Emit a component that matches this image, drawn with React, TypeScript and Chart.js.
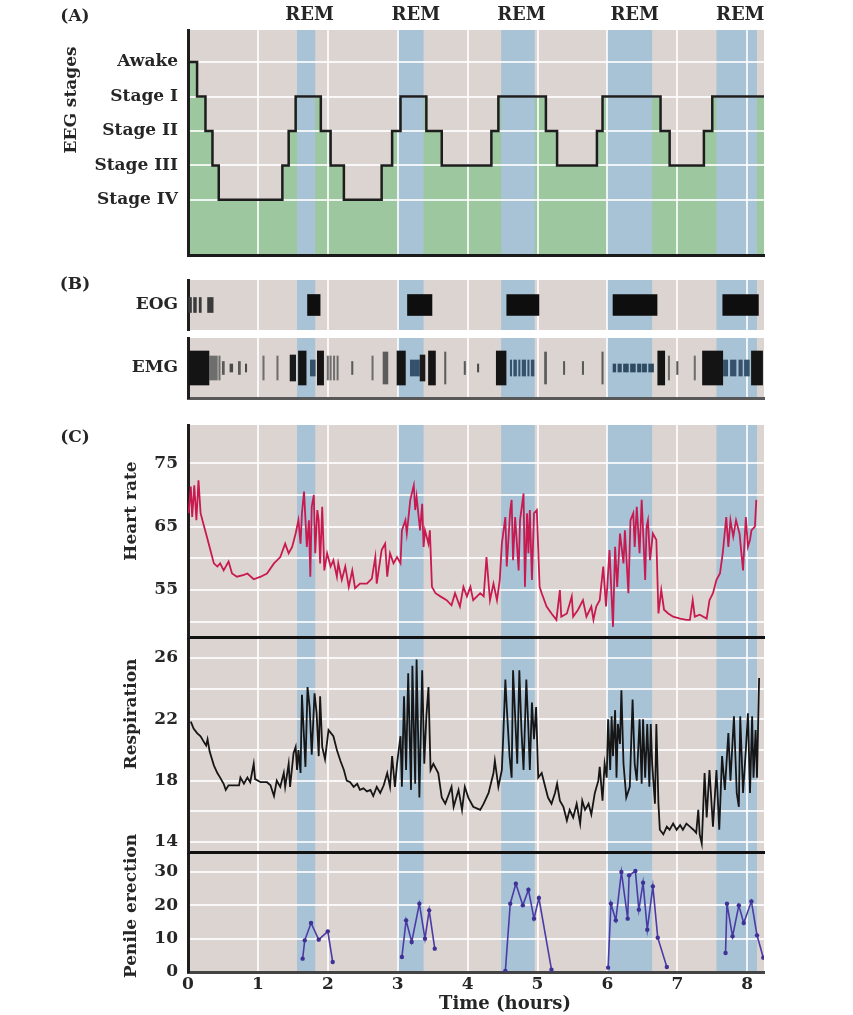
import React, { useEffect, useRef } from 'react';
import { Chart, registerables } from 'chart.js';

Chart.register(...registerables);

// ---------- style constants ----------
const FONT = "'DejaVu Serif', 'Liberation Serif', serif";
const INK = '#262626';
const BEIGE = '#dcd4d0';
const GREEN = '#9dc79f';
const BLUE = '#a8c2d6';
const GRID = 'rgba(255,255,255,0.82)';
const PAGE_W = 853;
const PLOT_LEFT = 188;
const PLOT_RIGHT = 764;

// ---------- data ----------
const X_MIN = 0;
const X_MAX = 8.24;
const HOUR_TICKS = [0, 1, 2, 3, 4, 5, 6, 7, 8];
const REM_BANDS: [number, number][] = [[1.56, 1.82], [3.0, 3.37], [4.48, 4.96], [5.99, 6.64], [7.56, 8.14]];
const REM_LABEL_HOURS = [1.74, 3.26, 4.77, 6.39, 7.9];

const STAGE_NAMES = ['Stage IV', 'Stage III', 'Stage II', 'Stage I', 'Awake'];
const STAGE_TICKS = [1, 2, 3, 4, 5];
// [hour at which the stage begins, stage level (5 = Awake ... 1 = Stage IV)]
const EEG_STEPS: [number, number][] = [
  [0, 5.9], [0.01, 5], [0.13, 4], [0.25, 3], [0.35, 2], [0.44, 1], [1.35, 2], [1.44, 3], [1.54, 4],
  [1.9, 3], [2.04, 2], [2.23, 1], [2.77, 2], [2.92, 3], [3.04, 4], [3.41, 3], [3.63, 2], [4.34, 3],
  [4.44, 4], [5.12, 3], [5.28, 2], [5.85, 3], [5.93, 4], [6.76, 3], [6.89, 2], [7.38, 3], [7.5, 4], [8.24, 4],
];

const EOG_MINOR: [number, number][] = [[0.01, 0.05], [0.08, 0.12], [0.16, 0.19], [0.28, 0.36]];
const EOG_BURSTS: [number, number][] = [[1.71, 1.89], [3.14, 3.49], [4.56, 5.02], [6.08, 6.71], [7.65, 8.16]];

const EMG_LARGE: [number, number][] = [[0.0, 0.3], [1.58, 1.69], [1.85, 1.94], [2.99, 3.11], [3.44, 3.54], [4.41, 4.55], [6.72, 6.82], [7.36, 7.65], [8.06, 8.22]];
const EMG_MEDIUM: [number, number][] = [[1.46, 1.54], [3.32, 3.39]];
const EMG_TALL_THIN: [number, number][] = [[2.79, 2.86], [3.67, 3.69], [5.1, 5.13], [5.92, 5.94]];
const EMG_MEDIUM_GRAY: [number, number][] = [[0.31, 0.42], [0.44, 0.46], [1.07, 1.09], [1.27, 1.29], [1.99, 2.01], [2.03, 2.05], [2.08, 2.1], [2.13, 2.15], [2.63, 2.65], [6.87, 6.89], [7.24, 7.26]];
const EMG_SMALL: [number, number][] = [[0.49, 0.52], [0.72, 0.75], [2.34, 2.36], [3.95, 3.97], [5.37, 5.39], [5.64, 5.66], [6.99, 7.01]];
const EMG_TINY: [number, number][] = [[0.6, 0.64], [0.82, 0.84], [4.14, 4.16]];
const EMG_REM: [number, number][] = [[1.75, 1.82], [3.18, 3.31], [4.61, 4.63], [4.66, 4.7], [4.73, 4.75], [4.78, 4.83], [4.86, 4.88], [4.91, 4.95], [7.66, 7.72], [7.76, 7.84], [7.88, 7.93], [7.96, 8.03]];
const EMG_REM_DASH: [number, number][] = [[6.08, 6.12], [6.15, 6.2], [6.23, 6.3], [6.33, 6.4], [6.43, 6.48], [6.5, 6.56], [6.59, 6.66]];

const HR_TICKS = [50, 55, 60, 65, 70, 75];
const HR_LABELS = [55, 65, 75];
const HEART_RATE: [number, number][] = [
  [0.01, 67.1], [0.04, 71.3], [0.06, 66.5], [0.09, 71.5], [0.12, 66.0], [0.15, 72.3], [0.18, 67.1], [0.23, 65.0], [0.27, 63.4], [0.32, 61.3],
  [0.37, 59.2], [0.42, 58.7], [0.46, 59.2], [0.51, 58.1], [0.58, 59.5], [0.63, 57.6], [0.70, 57.1], [0.80, 57.4], [0.85, 57.6], [0.94, 56.7],
  [1.04, 57.1], [1.13, 57.6], [1.23, 59.2], [1.32, 60.2], [1.39, 62.3], [1.44, 60.8], [1.49, 61.8], [1.54, 63.9], [1.58, 66.0], [1.61, 62.3],
  [1.63, 67.1], [1.66, 70.5], [1.70, 61.8], [1.73, 66.0], [1.75, 57.1], [1.77, 68.1], [1.80, 70.0], [1.82, 60.8], [1.85, 67.6], [1.87, 66.0],
  [1.89, 59.2], [1.92, 68.1], [1.95, 58.1], [1.99, 60.8], [2.04, 58.7], [2.08, 59.7], [2.13, 57.1], [2.15, 59.2], [2.20, 56.6], [2.25, 58.7],
  [2.30, 55.5], [2.35, 58.1], [2.39, 55.3], [2.46, 56.0], [2.56, 56.0], [2.63, 56.8], [2.68, 60.2], [2.70, 56.0], [2.77, 61.3], [2.82, 62.3],
  [2.85, 57.1], [2.89, 60.8], [2.94, 59.2], [2.99, 60.2], [3.04, 59.2], [3.06, 64.4], [3.11, 66.0], [3.13, 63.9], [3.18, 69.2], [3.23, 71.5],
  [3.25, 67.6], [3.27, 69.7], [3.32, 64.4], [3.35, 68.6], [3.37, 61.8], [3.39, 64.4], [3.44, 62.3], [3.46, 64.4], [3.49, 55.5], [3.54, 54.5],
  [3.61, 54.0], [3.70, 53.4], [3.77, 52.6], [3.82, 54.5], [3.89, 52.4], [3.94, 55.5], [3.99, 54.0], [4.04, 55.5], [4.08, 53.4], [4.18, 54.5],
  [4.23, 54.0], [4.27, 60.2], [4.32, 53.4], [4.37, 56.0], [4.42, 53.4], [4.46, 56.6], [4.49, 62.3], [4.54, 66.5], [4.56, 58.7], [4.61, 67.6],
  [4.63, 69.2], [4.65, 59.7], [4.68, 66.5], [4.73, 58.1], [4.75, 66.0], [4.80, 70.2], [4.82, 55.5], [4.85, 67.1], [4.87, 60.8], [4.89, 67.6],
  [4.92, 56.6], [4.95, 67.1], [4.99, 67.6], [5.03, 55.5], [5.06, 54.5], [5.13, 52.4], [5.20, 51.3], [5.27, 50.3], [5.32, 55.0], [5.34, 50.8],
  [5.42, 51.3], [5.49, 54.0], [5.51, 50.8], [5.58, 51.9], [5.65, 53.4], [5.70, 50.8], [5.77, 52.4], [5.80, 50.3], [5.84, 52.4], [5.89, 53.4],
  [5.94, 58.7], [5.98, 52.4], [6.03, 61.3], [6.08, 49.2], [6.11, 61.8], [6.14, 55.5], [6.18, 63.9], [6.23, 59.2], [6.25, 64.4], [6.30, 54.5],
  [6.33, 66.0], [6.37, 67.1], [6.39, 61.8], [6.42, 68.1], [6.46, 60.8], [6.49, 69.2], [6.51, 64.4], [6.54, 56.6], [6.56, 65.0], [6.58, 66.0],
  [6.61, 59.7], [6.65, 63.9], [6.70, 62.9], [6.73, 51.3], [6.77, 55.0], [6.81, 51.9], [6.87, 51.3], [6.94, 50.8], [7.04, 50.5], [7.13, 50.3],
  [7.18, 50.3], [7.22, 53.4], [7.25, 50.8], [7.32, 51.1], [7.42, 50.5], [7.46, 53.4], [7.51, 54.5], [7.56, 56.6], [7.61, 57.6], [7.65, 60.8],
  [7.70, 66.5], [7.73, 61.8], [7.76, 66.0], [7.80, 63.4], [7.84, 66.0], [7.89, 63.9], [7.94, 58.1], [7.98, 66.5], [8.01, 61.8], [8.04, 62.9],
  [8.06, 64.4], [8.11, 65.0], [8.13, 69.2],
];

const RESP_TICKS = [14, 16, 18, 20, 22, 24, 26];
const RESP_LABELS = [14, 18, 22, 26];
const RESPIRATION: [number, number][] = [
  [0.04, 21.85], [0.08, 21.4], [0.13, 21.1], [0.18, 20.9], [0.23, 20.5], [0.26, 20.3], [0.28, 20.7], [0.31, 19.9], [0.37, 19.0], [0.42, 18.5],
  [0.46, 18.2], [0.51, 17.8], [0.54, 17.4], [0.58, 17.7], [0.65, 17.7], [0.73, 17.7], [0.75, 18.2], [0.80, 17.8], [0.85, 18.2], [0.89, 17.9],
  [0.94, 19.1], [0.96, 18.1], [1.04, 17.9], [1.13, 17.9], [1.18, 17.7], [1.23, 17.0], [1.27, 18.0], [1.32, 17.6], [1.37, 18.5], [1.39, 17.6],
  [1.44, 19.1], [1.46, 17.6], [1.51, 19.8], [1.54, 20.2], [1.56, 18.7], [1.58, 20.0], [1.61, 18.5], [1.63, 23.6], [1.65, 21.7], [1.68, 18.9],
  [1.71, 24.1], [1.74, 22.8], [1.77, 19.7], [1.81, 23.7], [1.84, 22.4], [1.87, 19.6], [1.89, 23.5], [1.92, 20.2], [1.96, 19.4], [2.01, 21.3],
  [2.08, 20.9], [2.13, 20.0], [2.18, 19.3], [2.23, 18.7], [2.27, 18.0], [2.32, 17.9], [2.37, 17.6], [2.42, 17.8], [2.46, 17.4], [2.51, 17.5],
  [2.56, 17.3], [2.61, 17.4], [2.65, 17.0], [2.70, 17.6], [2.75, 17.2], [2.80, 17.7], [2.85, 18.5], [2.89, 17.6], [2.92, 19.6], [2.96, 17.6],
  [2.99, 19.1], [3.04, 20.9], [3.06, 17.6], [3.09, 23.5], [3.12, 18.7], [3.15, 25.0], [3.19, 17.4], [3.21, 25.5], [3.25, 17.8], [3.27, 25.9],
  [3.31, 16.9], [3.35, 25.2], [3.38, 19.1], [3.41, 22.2], [3.44, 24.1], [3.47, 18.7], [3.51, 19.1], [3.58, 18.5], [3.63, 16.9], [3.68, 16.5],
  [3.73, 17.1], [3.77, 17.6], [3.80, 16.3], [3.87, 17.4], [3.92, 16.1], [3.96, 17.6], [4.01, 16.9], [4.08, 16.3], [4.18, 16.1], [4.23, 16.5],
  [4.30, 17.2], [4.37, 18.5], [4.39, 19.3], [4.44, 17.6], [4.49, 18.7], [4.51, 20.9], [4.54, 24.6], [4.56, 22.8], [4.60, 19.6], [4.63, 18.2],
  [4.65, 25.2], [4.68, 22.2], [4.71, 19.1], [4.74, 25.2], [4.77, 21.3], [4.80, 18.7], [4.84, 24.6], [4.87, 21.3], [4.89, 18.7], [4.92, 23.1],
  [4.95, 20.7], [4.98, 22.8], [5.01, 18.2], [5.06, 18.5], [5.11, 17.6], [5.15, 16.9], [5.20, 16.5], [5.25, 17.2], [5.28, 17.8], [5.32, 16.7],
  [5.37, 16.3], [5.42, 15.4], [5.46, 16.1], [5.51, 15.6], [5.56, 16.5], [5.61, 15.2], [5.64, 16.7], [5.68, 16.1], [5.73, 16.5], [5.77, 15.8],
  [5.82, 17.2], [5.87, 18.0], [5.89, 18.9], [5.93, 16.7], [5.96, 19.1], [5.99, 18.2], [6.01, 22.0], [6.04, 18.7], [6.06, 22.2], [6.08, 19.6],
  [6.11, 22.6], [6.13, 18.2], [6.15, 21.7], [6.18, 20.4], [6.20, 23.9], [6.23, 19.1], [6.27, 16.9], [6.32, 17.6], [6.36, 23.3], [6.39, 19.1],
  [6.42, 18.0], [6.46, 22.0], [6.49, 17.8], [6.51, 22.0], [6.54, 18.2], [6.57, 21.7], [6.60, 17.6], [6.62, 21.7], [6.64, 19.1], [6.68, 16.5],
  [6.70, 21.7], [6.73, 16.5], [6.75, 14.8], [6.80, 14.5], [6.85, 15.0], [6.89, 14.8], [6.94, 15.2], [6.99, 14.8], [7.04, 15.1], [7.08, 14.8],
  [7.13, 15.2], [7.18, 15.0], [7.23, 14.8], [7.27, 14.6], [7.30, 16.1], [7.32, 14.5], [7.35, 13.9], [7.39, 18.5], [7.42, 15.6], [7.46, 18.7],
  [7.51, 15.0], [7.56, 18.7], [7.60, 14.8], [7.64, 19.6], [7.68, 17.4], [7.73, 21.1], [7.76, 18.0], [7.81, 22.2], [7.85, 17.2], [7.88, 16.3],
  [7.90, 22.2], [7.94, 17.2], [7.98, 20.0], [8.01, 22.4], [8.04, 17.2], [8.07, 22.2], [8.09, 18.2], [8.12, 21.3], [8.14, 18.2], [8.17, 24.7],
];

const PE_TICKS = [0, 10, 20, 30];
const PENILE_EPISODES: [number, number][][] = [
  [[1.64, 4.0], [1.67, 9.5], [1.76, 14.7], [1.87, 9.7], [2.0, 12.2], [2.07, 3.0]],
  [[3.06, 4.5], [3.12, 15.5], [3.2, 9.0], [3.31, 20.5], [3.39, 10.0], [3.45, 18.5], [3.53, 7.0]],
  [[4.54, 0.3], [4.61, 20.5], [4.69, 26.5], [4.79, 20.0], [4.87, 24.7], [4.95, 16.0], [5.02, 22.2], [5.2, 0.7]],
  [[6.01, 1.3], [6.05, 20.5], [6.12, 15.5], [6.2, 30.0], [6.29, 16.0], [6.31, 29.0], [6.4, 30.3], [6.45, 18.7], [6.51, 26.8], [6.57, 12.7], [6.65, 25.7], [6.72, 10.3], [6.85, 1.5]],
  [[7.69, 5.7], [7.71, 20.5], [7.79, 10.7], [7.88, 20.0], [7.95, 14.7], [8.06, 21.2], [8.14, 11.0], [8.23, 4.3]],
];

// ---------- plugins ----------
function drawBands(chart: any) {
  const { ctx, chartArea: a, scales } = chart;
  const xs = scales.x;
  ctx.save();
  ctx.fillStyle = BLUE;
  for (const [s, e] of REM_BANDS) {
    const x1 = xs.getPixelForValue(s);
    const x2 = xs.getPixelForValue(e);
    ctx.fillRect(x1, a.top, x2 - x1, a.bottom - a.top);
  }
  ctx.restore();
}

const panelBg = {
  id: 'panelBg',
  beforeDraw(chart: any, _args: any, opts: any) {
    if (!opts || !opts.enabled) return;
    const { ctx, chartArea: a } = chart;
    ctx.save();
    ctx.fillStyle = BEIGE;
    ctx.fillRect(a.left, a.top, a.right - a.left, a.bottom - a.top);
    ctx.restore();
    if (!opts.bandsAfter) drawBands(chart);
  },
  afterDatasetsDraw(chart: any, _args: any, opts: any) {
    if (opts && opts.enabled && opts.bandsAfter) drawBands(chart);
  },
};

const remLabels = {
  id: 'remLabels',
  afterDraw(chart: any, _args: any, opts: any) {
    if (!opts || !opts.enabled) return;
    const { ctx, scales } = chart;
    ctx.save();
    ctx.font = `bold 18px ${FONT}`;
    ctx.fillStyle = INK;
    ctx.textAlign = 'center';
    ctx.textBaseline = 'middle';
    REM_LABEL_HOURS.forEach((h) => ctx.fillText('REM', scales.x.getPixelForValue(h), 15));
    ctx.restore();
  },
};

// ---------- axis helpers ----------
const tickFont = { family: FONT, weight: 'bold', size: 17 };

function xAxis(o: { ticks?: boolean; grid?: boolean; border?: { color: string; width: number } | null }) {
  return {
    type: 'linear',
    min: X_MIN,
    max: X_MAX,
    afterBuildTicks: (s: any) => { s.ticks = HOUR_TICKS.map((v) => ({ value: v })); },
    afterFit: (s: any) => {
      s.height = o.ticks ? 30 : 0;
      s.paddingLeft = 0; s.paddingRight = 0; s.paddingTop = 0; s.paddingBottom = 0;
    },
    grid: { display: o.grid !== false, color: GRID, lineWidth: 2, drawTicks: false },
    border: o.border ? { display: true, color: o.border.color, width: o.border.width } : { display: false },
    ticks: { display: !!o.ticks, padding: 2, font: tickFont, color: INK, maxRotation: 0, autoSkip: false, callback: (v: any) => String(v) },
  };
}

function yAxis(o: { min: number; max: number; ticks: number[]; label: (v: number) => string; grid?: boolean; border?: boolean; showTicks?: boolean }) {
  return {
    type: 'linear',
    min: o.min,
    max: o.max,
    offset: false,
    afterBuildTicks: (s: any) => { s.ticks = o.ticks.map((v) => ({ value: v })); },
    afterFit: (s: any) => {
      s.width = PLOT_LEFT;
      s.paddingLeft = 0; s.paddingRight = 0; s.paddingTop = 0; s.paddingBottom = 0;
    },
    grid: { display: o.grid !== false, color: GRID, lineWidth: 2, drawTicks: false },
    border: o.border === false ? { display: false } : { display: true, color: '#1e1e1e', width: 3 },
    ticks: { display: o.showTicks !== false, padding: 10, font: tickFont, color: INK, autoSkip: false, callback: (v: any) => o.label(Number(v)) },
  };
}

function baseOptions(padTop: number, padBottom: number) {
  return {
    responsive: false,
    maintainAspectRatio: false,
    animation: false,
    events: [],
    layout: { padding: { left: 0, right: PAGE_W - PLOT_RIGHT, top: padTop, bottom: padBottom } },
  };
}

const toXY = (pts: [number, number][]) => pts.map(([x, y]) => ({ x, y }));

// ---------- chart configs ----------
const eegFillConfig = () => ({
  type: 'line',
  data: {
    datasets: [{
      data: toXY(EEG_STEPS), stepped: 'before', fill: 'start', backgroundColor: GREEN,
      borderColor: 'transparent', borderWidth: 0, pointRadius: 0,
    }],
  },
  options: {
    ...baseOptions(30, 12),
    plugins: { legend: { display: false }, tooltip: { enabled: false }, panelBg: { enabled: true, bandsAfter: true } },
    scales: {
      x: xAxis({ grid: false, border: null }),
      y: yAxis({ min: -0.6, max: 5.93, ticks: STAGE_TICKS, label: () => '', grid: false, border: false, showTicks: false }),
    },
  },
  plugins: [panelBg],
});

const eegLineConfig = () => ({
  type: 'line',
  data: {
    datasets: [{
      data: toXY(EEG_STEPS), stepped: 'before', fill: false, borderColor: '#1d1d1d', borderWidth: 2.5, pointRadius: 0,
    }],
  },
  options: {
    ...baseOptions(30, 12),
    plugins: { legend: { display: false }, tooltip: { enabled: false }, remLabels: { enabled: true } },
    scales: {
      x: xAxis({ border: { color: '#1a1a1a', width: 3 } }),
      y: yAxis({ min: -0.6, max: 5.93, ticks: STAGE_TICKS, label: (v) => STAGE_NAMES[v - 1] || '' }),
    },
  },
  plugins: [remLabels],
});

type MarkGroup = { spans: [number, number][]; size: number; color: string };

const markConfig = (groups: MarkGroup[], label: string, padTop: number, padBottom: number, bottomBorder: any) => () => ({
  type: 'bar',
  data: {
    datasets: groups.map((g) => ({
      data: g.spans.map(([s, e]) => ({ x: [s, e], y: 0.5 })),
      backgroundColor: g.color,
      barThickness: g.size,
      grouped: false,
      borderWidth: 0,
      borderSkipped: false,
    })),
  },
  options: {
    ...baseOptions(padTop, padBottom),
    indexAxis: 'y',
    plugins: { legend: { display: false }, tooltip: { enabled: false }, panelBg: { enabled: true } },
    scales: {
      x: xAxis({ border: bottomBorder }),
      y: yAxis({ min: 0, max: 1, ticks: [0.5], label: () => label, grid: false }),
    },
  },
  plugins: [panelBg],
});

const eogConfig = markConfig([
  { spans: EOG_MINOR, size: 15, color: '#3a3a3a' },
  { spans: EOG_BURSTS, size: 21, color: '#0e0e0e' },
], 'EOG', 12, 10, null);

const emgConfig = markConfig([
  { spans: EMG_LARGE, size: 34, color: '#141414' },
  { spans: EMG_TALL_THIN, size: 32, color: '#5c5c5c' },
  { spans: EMG_MEDIUM, size: 26, color: '#1a1a1a' },
  { spans: EMG_MEDIUM_GRAY, size: 24, color: '#6e6e6e' },
  { spans: EMG_REM, size: 16, color: '#35516b' },
  { spans: EMG_SMALL, size: 13, color: '#5a5a5a' },
  { spans: EMG_TINY, size: 8, color: '#4a4a4a' },
  { spans: EMG_REM_DASH, size: 8, color: '#2f4a63' },
], 'EMG', 12, 12, { color: '#585858', width: 3 });

const seriesConfig = (
  datasets: any[], y: any, padTop: number, padBottom: number, xo: any,
) => () => ({
  type: 'line',
  data: { datasets },
  options: {
    ...baseOptions(padTop, padBottom),
    plugins: { legend: { display: false }, tooltip: { enabled: false }, panelBg: { enabled: true } },
    scales: { x: xAxis(xo), y },
  },
  plugins: [panelBg],
});

const hrConfig = seriesConfig(
  [{ data: toXY(HEART_RATE), borderColor: '#c81a50', borderWidth: 1.8, pointRadius: 0, fill: false, tension: 0 }],
  yAxis({ min: 47.6, max: 81, ticks: HR_TICKS, label: (v) => (HR_LABELS.includes(v) ? String(v) : '') }),
  12, 12, { border: { color: '#111111', width: 3 } },
);

const respConfig = seriesConfig(
  [{ data: toXY(RESPIRATION), borderColor: '#161616', borderWidth: 1.8, pointRadius: 0, fill: false, tension: 0 }],
  yAxis({ min: 13.35, max: 27.37, ticks: RESP_TICKS, label: (v) => (RESP_LABELS.includes(v) ? String(v) : '') }),
  12, 12, { border: { color: '#111111', width: 3 } },
);

const peConfig = seriesConfig(
  PENILE_EPISODES.map((ep) => ({
    data: toXY(ep), borderColor: '#4b3ba6', borderWidth: 1.6, pointRadius: 2.2,
    pointBackgroundColor: '#3f3196', pointBorderWidth: 0, fill: false, tension: 0,
  })),
  yAxis({ min: 0, max: 36, ticks: PE_TICKS, label: (v) => String(v) }),
  12, 0, { ticks: true, border: { color: '#444444', width: 3 } },
);

// ---------- components ----------
function ChartCanvas({ top, height, config }: { top: number; height: number; config: () => any }) {
  const ref = useRef<HTMLCanvasElement | null>(null);
  useEffect(() => {
    const chart = new Chart(ref.current as HTMLCanvasElement, config());
    return () => chart.destroy();
  }, []);
  return (
    <canvas
      ref={ref}
      width={PAGE_W}
      height={height}
      style={{ position: 'absolute', left: 0, top, width: PAGE_W, height }}
    />
  );
}

function Text({ x, y, children, size = 17, rotate = false }: { x: number; y: number; children: any; size?: number; rotate?: boolean }) {
  return (
    <div
      style={{
        position: 'absolute', left: x, top: y, whiteSpace: 'nowrap',
        transform: rotate ? 'translate(-50%, -50%) rotate(-90deg)' : 'translate(-50%, -50%)',
        fontFamily: FONT, fontWeight: 'bold', fontSize: size, color: INK, lineHeight: 1,
      }}
    >
      {children}
    </div>
  );
}

export default function App() {
  return (
    <div style={{ position: 'absolute', left: 0, top: 0, width: PAGE_W, height: 1015, background: '#ffffff', overflow: 'hidden' }}>
      <ChartCanvas top={0} height={267} config={eegFillConfig} />
      <ChartCanvas top={0} height={267} config={eegLineConfig} />
      <ChartCanvas top={326} height={84} config={emgConfig} />
      <ChartCanvas top={268} height={72} config={eogConfig} />
      <ChartCanvas top={840} height={162} config={peConfig} />
      <ChartCanvas top={625} height={239} config={respConfig} />
      <ChartCanvas top={413} height={236} config={hrConfig} />

      <Text x={75} y={15}>(A)</Text>
      <Text x={75} y={283}>(B)</Text>
      <Text x={75} y={436}>(C)</Text>
      <Text x={70} y={100} rotate>EEG stages</Text>
      <Text x={130} y={511} rotate>Heart rate</Text>
      <Text x={130} y={714} rotate>Respiration</Text>
      <Text x={130} y={906} rotate>Penile erection</Text>
      <Text x={505} y={1003} size={18}>Time (hours)</Text>
    </div>
  );
}
